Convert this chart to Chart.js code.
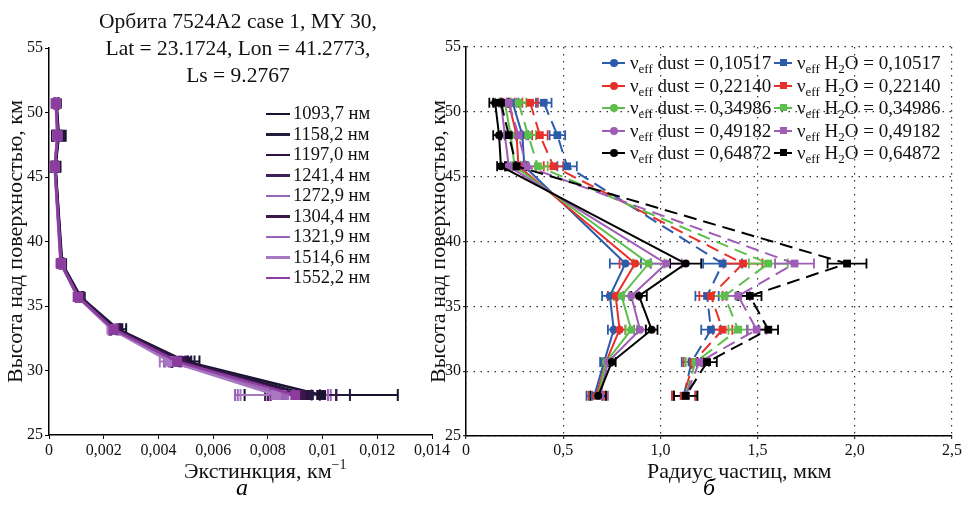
<!DOCTYPE html>
<html>
<head>
<meta charset="utf-8">
<script src="https://cdn.jsdelivr.net/npm/chart.js@4.4.1/dist/chart.umd.min.js"></script>
<style>
  body { margin: 0; background: #fff; font-family: "Liberation Serif", "Times New Roman", serif; }
  #wrap { position: relative; width: 976px; height: 512px; overflow: hidden; }
  .box { position: absolute; top: 0; height: 512px; }
  #title { position: absolute; left: 68px; width: 340px; top: 8px; text-align: center; font-size: 21.5px; line-height: 27px; color: #111; }
  .lrow { position: absolute; left: 266px; height: 20px; font-size: 18.5px; line-height: 20px; color: #111; white-space: nowrap; }
  .lrow .ln { display: inline-block; width: 24px; height: 2.5px; vertical-align: middle; margin-right: 3px; position: relative; top: -1px; }
  .rrow { position: absolute; height: 22px; font-size: 19px; line-height: 22px; color: #111; white-space: nowrap; }
  .smp { display: inline-block; position: relative; height: 22px; vertical-align: top; margin-right: 5px; }
  .smp .bar { position: absolute; left: 0; right: 0; top: 10px; height: 2px; }
  .smp .mk { position: absolute; width: 8px; height: 8px; top: 7px; }
  sub { font-size: 13px; vertical-align: -4px; line-height: 0; }
  .xt { position: absolute; top: 458px; font-size: 22px; line-height: 26px; color: #111; white-space: nowrap; }
  .xt sup { font-size: 14px; vertical-align: 9px; line-height: 0; }
  .cap { position: absolute; top: 474px; font-size: 24px; font-style: italic; }
</style>
</head>
<body>
<div id="wrap">
  <div class="box" style="left:0;width:470px"><canvas id="leftChart"></canvas></div>
  <div class="box" style="left:425px;width:551px"><canvas id="rightChart"></canvas></div>
  <div id="title">Орбита 7524A2 case 1, MY 30,<br>Lat = 23.1724, Lon = 41.2773,<br>Ls = 9.2767</div>
  <div id="legL"></div>
  <div id="legR"></div>
  <div class="xt" style="left:184px">Экстинкция, км<sup>−1</sup></div>
  <div class="xt" style="left:647px">Радиус частиц, мкм</div>
  <div class="cap" style="left:236px">а</div>
  <div class="cap" style="left:703px">б</div>
</div>
<script>
// ---- left panel: extinction profiles ----
const altitudesL = [50.7, 48.2, 45.8, 38.3, 35.7, 33.2, 30.7, 28.1];
const wavelengths = ['1093,7 нм', '1158,2 нм', '1197,0 нм', '1241,4 нм', '1272,9 нм', '1304,4 нм', '1321,9 нм', '1514,6 нм', '1552,2 нм'];

const ext1093 = [0.00028, 0.00036, 0.00024, 0.00048, 0.00116, 0.00252, 0.00500, 0.00995];
const ext1158 = [0.00027, 0.00035, 0.00023, 0.00047, 0.00114, 0.00248, 0.00492, 0.00950];
const ext1197 = [0.00027, 0.00034, 0.00023, 0.00046, 0.00113, 0.00245, 0.00485, 0.00930];
const ext1241 = [0.00026, 0.00033, 0.00022, 0.00046, 0.00112, 0.00242, 0.00478, 0.00910];
const ext1272 = [0.00025, 0.00032, 0.00021, 0.00044, 0.00108, 0.00235, 0.00455, 0.00860];
const ext1304 = [0.00026, 0.00033, 0.00022, 0.00045, 0.00111, 0.00240, 0.00475, 0.00920];
const ext1321 = [0.00025, 0.00031, 0.00021, 0.00044, 0.00107, 0.00232, 0.00450, 0.00850];
const ext1514 = [0.00024, 0.00030, 0.00020, 0.00042, 0.00104, 0.00228, 0.00440, 0.00830];
const ext1552 = [0.00025, 0.00031, 0.00021, 0.00043, 0.00106, 0.00236, 0.00468, 0.00900];

const err1093 = [0.00008, 0.00025, 0.00018, 0.00006, 0.00010, 0.00030, 0.00050, 0.00280];
const err1158 = [0.00007, 0.00020, 0.00012, 0.00005, 0.00008, 0.00020, 0.00040, 0.00150];
const err1197 = [0.00006, 0.00015, 0.00010, 0.00005, 0.00008, 0.00018, 0.00035, 0.00120];
const err1241 = [0.00006, 0.00012, 0.00008, 0.00005, 0.00007, 0.00016, 0.00030, 0.00110];
const err1272 = [0.00005, 0.00010, 0.00006, 0.00004, 0.00006, 0.00014, 0.00030, 0.00170];
const err1304 = [0.00006, 0.00012, 0.00008, 0.00005, 0.00007, 0.00016, 0.00030, 0.00130];
const err1321 = [0.00005, 0.00010, 0.00006, 0.00004, 0.00006, 0.00014, 0.00030, 0.00170];
const err1514 = [0.00005, 0.00008, 0.00005, 0.00004, 0.00006, 0.00012, 0.00035, 0.00130];
const err1552 = [0.00005, 0.00010, 0.00006, 0.00004, 0.00006, 0.00014, 0.00030, 0.00090];

const leftXTicks = ['0', '0,002', '0,004', '0,006', '0,008', '0,01', '0,012', '0,014'];
const leftColors = ['#1a1330', '#241a3d', '#2c1042', '#43205c', '#9a68b9', '#3b1847', '#9c62b5', '#a878c2', '#8c3b9f'];

// ---- right panel: particle radius ----
const altitudesR = [50.7, 48.2, 45.8, 38.3, 35.8, 33.2, 30.7, 28.1];
const nuValues = ['0,10517', '0,22140', '0,34986', '0,49182', '0,64872'];

const dust1 = [0.24, 0.29, 0.30, 0.82, 0.74, 0.76, 0.71, 0.66];
const dust2 = [0.22, 0.26, 0.27, 0.87, 0.77, 0.79, 0.72, 0.67];
const dust3 = [0.20, 0.23, 0.25, 0.94, 0.80, 0.85, 0.72, 0.68];
const dust4 = [0.18, 0.20, 0.22, 1.03, 0.85, 0.895, 0.73, 0.69];
const dust5 = [0.15, 0.17, 0.18, 1.13, 0.89, 0.955, 0.75, 0.68];

const h2o1 = [0.40, 0.47, 0.52, 1.32, 1.24, 1.26, 1.16, 1.12];
const h2o2 = [0.33, 0.38, 0.45, 1.425, 1.26, 1.32, 1.17, 1.12];
const h2o3 = [0.27, 0.32, 0.37, 1.555, 1.33, 1.40, 1.18, 1.13];
const h2o4 = [0.22, 0.27, 0.31, 1.69, 1.40, 1.495, 1.20, 1.13];
const h2o5 = [0.18, 0.22, 0.26, 1.96, 1.46, 1.555, 1.24, 1.13];

const dustErr = [0.03, 0.03, 0.02, 0.08, 0.04, 0.03, 0.02, 0.04];
const h2oErr = [0.04, 0.04, 0.05, 0.10, 0.06, 0.05, 0.05, 0.06];

const rightXTicks = ['0', '0,5', '1,0', '1,5', '2,0', '2,5'];
const rightColors = ['#2b5cab', '#e8302b', '#5cbf4b', '#9f5db6', '#000000'];

const fontFam = '"Liberation Serif", "Times New Roman", serif';

// horizontal error bars with caps
const errorBars = {
  id: 'errorBars',
  beforeDatasetsDraw(chart, args, opts) {
    const ctx = chart.ctx;
    const xs = chart.scales.x, ys = chart.scales.y;
    for (let i = chart.data.datasets.length - 1; i >= 0; i--) {
      const ds = chart.data.datasets[i];
      if (!ds.errors) continue;
      ctx.save();
      ctx.strokeStyle = ds.borderColor;
      ctx.lineWidth = opts.width;
      ds.data.forEach((p, j) => {
        const e = ds.errors[j];
        const x1 = xs.getPixelForValue(p.x - e);
        const x2 = xs.getPixelForValue(p.x + e);
        const y = ys.getPixelForValue(p.y);
        const h = opts.cap;
        ctx.beginPath();
        ctx.moveTo(x1, y); ctx.lineTo(x2, y);
        ctx.moveTo(x1, y - h); ctx.lineTo(x1, y + h);
        ctx.moveTo(x2, y - h); ctx.lineTo(x2, y + h);
        ctx.stroke();
      });
      ctx.restore();
    }
  }
};

function pts(xs, ys) {
  return xs.map((v, i) => ({ x: v, y: ys[i] }));
}

// left chart
const leftValues = [ext1093, ext1158, ext1197, ext1241, ext1272, ext1304, ext1321, ext1514, ext1552];
const leftErrors = [err1093, err1158, err1197, err1241, err1272, err1304, err1321, err1514, err1552];

const leftSets = leftValues.map((vals, i) => ({
  label: wavelengths[i],
  data: pts(vals, altitudesL),
  errors: leftErrors[i],
  showLine: true,
  borderColor: leftColors[i],
  backgroundColor: leftColors[i],
  borderWidth: 2.5,
  pointStyle: 'rect',
  pointRadius: 7,
  pointBorderWidth: 0,
  tension: 0
})).reverse();

const axisFont = { family: fontFam, size: 16 };
const yTitleFont = { family: fontFam, size: 22 };

new Chart(document.getElementById('leftChart'), {
  type: 'scatter',
  data: { datasets: leftSets },
  options: {
    responsive: true,
    maintainAspectRatio: false,
    animation: false,
    layout: { padding: { left: 0, right: 38, top: 48, bottom: 0 } },
    plugins: { legend: { display: false }, tooltip: { enabled: false }, errorBars: { width: 2, cap: 6 } },
    scales: {
      x: {
        type: 'linear', min: 0, max: 0.014,
        afterFit: s => { s.height = 77; },
        ticks: { stepSize: 0.002, color: '#111', padding: 2, font: axisFont, callback: (v, i) => leftXTicks[i] },
        grid: { display: true, drawOnChartArea: false, drawTicks: true, tickLength: 4, color: '#000' },
        border: { display: true, color: '#000', width: 1.5 }
      },
      y: {
        type: 'linear', min: 25, max: 55,
        afterFit: s => { s.width = 49; },
        ticks: { stepSize: 5, color: '#111', padding: 2, font: axisFont },
        grid: { display: true, drawOnChartArea: false, drawTicks: true, tickLength: 4, color: '#000' },
        border: { display: true, color: '#000', width: 1.5 },
        title: { display: true, text: 'Высота над поверхностью, км', color: '#111', font: yTitleFont, padding: { top: 3, bottom: 0 } }
      }
    }
  },
  plugins: [errorBars]
});

// right chart
const dustValues = [dust1, dust2, dust3, dust4, dust5];
const h2oValues = [h2o1, h2o2, h2o3, h2o4, h2o5];
const rightSets = [];
for (let i = 4; i >= 0; i--) {
  rightSets.push({
    label: 'dust ' + nuValues[i],
    data: pts(dustValues[i], altitudesR),
    errors: dustErr,
    showLine: true,
    borderColor: rightColors[i],
    backgroundColor: rightColors[i],
    borderWidth: 2,
    pointStyle: 'circle',
    pointRadius: 4,
    pointBorderWidth: 0,
    tension: 0
  });
  rightSets.push({
    label: 'H2O ' + nuValues[i],
    data: pts(h2oValues[i], altitudesR),
    errors: h2oErr,
    showLine: true,
    borderColor: rightColors[i],
    backgroundColor: rightColors[i],
    borderWidth: 2,
    borderDash: [13, 7],
    pointStyle: 'rect',
    pointRadius: 5.5,
    pointBorderWidth: 0,
    tension: 0
  });
}

new Chart(document.getElementById('rightChart'), {
  type: 'scatter',
  data: { datasets: rightSets },
  options: {
    responsive: true,
    maintainAspectRatio: false,
    animation: false,
    layout: { padding: { left: 0, right: 24, top: 47, bottom: 0 } },
    plugins: { legend: { display: false }, tooltip: { enabled: false }, errorBars: { width: 1.8, cap: 5 } },
    scales: {
      x: {
        type: 'linear', min: 0, max: 2.5,
        afterFit: s => { s.height = 76; },
        ticks: { stepSize: 0.5, color: '#111', padding: 2, font: axisFont, callback: (v, i) => rightXTicks[i] },
        grid: { display: true, drawOnChartArea: true, drawTicks: true, tickLength: 3, color: '#333', lineWidth: 1.2 },
        border: { display: true, color: '#000', width: 1.5, dash: [1.5, 5.5] }
      },
      y: {
        type: 'linear', min: 25, max: 55,
        afterFit: s => { s.width = 41; },
        ticks: { stepSize: 5, color: '#111', padding: 2, font: axisFont },
        grid: { display: true, drawOnChartArea: true, drawTicks: true, tickLength: 3, color: '#333', lineWidth: 1.2 },
        border: { display: true, color: '#000', width: 1.5, dash: [1.5, 5.5] },
        title: { display: true, text: 'Высота над поверхностью, км', color: '#111', font: yTitleFont, padding: { top: 1, bottom: 0 } }
      }
    }
  },
  plugins: [errorBars]
});

// legends
const legL = document.getElementById('legL');
wavelengths.forEach((w, i) => {
  const row = document.createElement('div');
  row.className = 'lrow';
  row.style.top = (103 + i * 20.5) + 'px';
  row.innerHTML = '<span class="ln" style="background:' + leftColors[i] + '"></span>' + w;
  legL.appendChild(row);
});

const legR = document.getElementById('legR');
nuValues.forEach((v, i) => {
  const top = 52 + i * 22.5;
  const c = rightColors[i];
  const a = document.createElement('div');
  a.className = 'rrow';
  a.style.left = '602px';
  a.style.top = top + 'px';
  a.innerHTML = '<span class="smp" style="width:23px"><span class="bar" style="background:' + c + '"></span>' +
    '<span class="mk" style="left:7.5px;border-radius:50%;background:' + c + '"></span></span>' +
    'ν<sub>eff</sub> dust = ' + v;
  legR.appendChild(a);
  const b = document.createElement('div');
  b.className = 'rrow';
  b.style.left = '774px';
  b.style.top = top + 'px';
  b.innerHTML = '<span class="smp" style="width:18px"><span class="bar" style="background:' + c + '"></span>' +
    '<span class="mk" style="left:6px;width:7px;height:7px;background:' + c + '"></span></span>' +
    'ν<sub>eff</sub> H<sub>2</sub>O = ' + v;
  legR.appendChild(b);
});
</script>
</body>
</html>
